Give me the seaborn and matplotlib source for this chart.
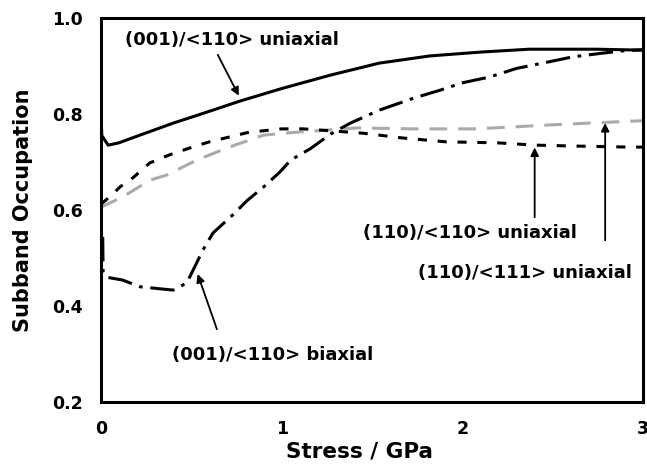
import matplotlib
matplotlib.use("Agg")
import matplotlib.pyplot as plt
import seaborn as sns
import pandas as pd

# Stress (GPa) vs. subband occupation for four strain configurations
x_001_uni = [0.0, 0.005, 0.04, 0.1, 0.216, 0.4, 0.587, 0.77, 1.0, 1.27, 1.54, 1.82, 2.1, 2.37, 2.74, 3.0]
y_001_uni = [0.794, 0.755, 0.735, 0.740, 0.756, 0.781, 0.804, 0.827, 0.853, 0.881, 0.906, 0.921, 0.929, 0.935, 0.935, 0.933]

x_001_bi = [0.01, 0.012, 0.03, 0.12, 0.216, 0.4, 0.475, 0.53, 0.565, 0.62, 0.73, 0.81, 0.9, 0.99,
            1.05, 1.16, 1.27, 1.38, 1.54, 1.73, 1.88, 2.0, 2.15, 2.3, 2.47, 2.61, 2.78, 2.9, 3.0]
y_001_bi = [0.544, 0.47, 0.46, 0.454, 0.44, 0.433, 0.448, 0.49, 0.517, 0.552, 0.59, 0.62, 0.648, 0.679,
            0.704, 0.728, 0.758, 0.781, 0.808, 0.833, 0.85, 0.865, 0.877, 0.895, 0.908, 0.919, 0.927, 0.932, 0.934]

x_110_110 = [0.0, 0.06, 0.105, 0.177, 0.27, 0.38, 0.49, 0.6, 0.71, 0.82, 1.0, 1.12, 1.27, 1.45,
             1.67, 1.91, 2.19, 2.41, 2.65, 2.93, 3.0]
y_110_110 = [0.612, 0.631, 0.648, 0.667, 0.698, 0.715, 0.729, 0.742, 0.752, 0.762, 0.769, 0.769, 0.765, 0.76,
             0.75, 0.742, 0.74, 0.735, 0.733, 0.731, 0.731]

x_110_111 = [0.0, 0.12, 0.27, 0.365, 0.53, 0.71, 0.9, 1.08, 1.27, 1.42, 1.73, 2.06, 2.28, 2.47, 2.7, 2.93, 3.0]
y_110_111 = [0.606, 0.627, 0.662, 0.673, 0.704, 0.731, 0.756, 0.762, 0.767, 0.771, 0.769, 0.769, 0.773, 0.777, 0.781, 0.785, 0.786]

x_ticks = [0, 1, 2, 3]
y_ticks = [0.2, 0.4, 0.6, 0.8, 1.0]
x_tick_labels = ["0", "1", "2", "3"]
y_tick_labels = ["0.2", "0.4", "0.6", "0.8", "1.0"]

sns.set_style("white")
plt.rcParams["font.family"] = ["DejaVu Sans"]
plt.rcParams.update({"text.color": "black", "axes.labelcolor": "black",
                     "xtick.color": "black", "ytick.color": "black"})

fig = plt.figure(figsize=(6.47, 4.74), dpi=100)
ax = fig.add_axes([0.156, 0.152, 0.838, 0.810])

series = [
    (x_110_111, y_110_111, "#aaaaaa", (5.8, 3.6)),
    (x_110_110, y_110_110, "black", (3.0, 3.5)),
    (x_001_bi, y_001_bi, "black", (8.0, 2.5, 1.2, 2.5)),
    (x_001_uni, y_001_uni, "black", None),
]
for xs, ys, color, dashes in series:
    df = pd.DataFrame({"stress": xs, "occ": ys})
    sns.lineplot(data=df, x="stress", y="occ", ax=ax, sort=False,
                 estimator=None, color=color, lw=2.2)
    if dashes is not None:
        ax.lines[-1].set_dashes(dashes)

ax.set_xlim(0, 3)
ax.set_ylim(0.2, 1.0)
ax.set_xticks(x_ticks)
ax.set_xticklabels(x_tick_labels)
ax.set_yticks(y_ticks)
ax.set_yticklabels(y_tick_labels)
ax.tick_params(direction="in", length=5, width=1.2, labelsize=12.5, pad=13,
               colors="black")
for lab in ax.get_xticklabels() + ax.get_yticklabels():
    lab.set_fontweight("bold")
for sp in ax.spines.values():
    sp.set_linewidth(2.2)
    sp.set_color("black")

ax.set_xlabel("Stress / GPa", fontsize=15.5, fontweight="bold", color="black")
ax.xaxis.set_label_coords(0.476, -0.102)
ax.set_ylabel("Subband Occupation", fontsize=15, fontweight="bold", color="black")
ax.yaxis.set_label_coords(-0.125, 0.5)

arrow = dict(arrowstyle="-|>", color="black", lw=1.3, mutation_scale=12)
tfont = dict(fontsize=13, fontweight="bold", color="black")
ax.annotate("(001)/<110> uniaxial", xy=(0.77, 0.833), xytext=(0.133, 0.954),
            arrowprops=dict(arrow, relpos=(0.42, 0.0)), ha="left", va="center", **tfont)
ax.annotate("", xy=(0.53, 0.472), xytext=(0.647, 0.346), arrowprops=arrow)
ax.text(0.393, 0.298, "(001)/<110> biaxial", ha="left", va="center", **tfont)
ax.annotate("", xy=(2.40, 0.736), xytext=(2.40, 0.579), arrowprops=arrow)
ax.text(1.45, 0.552, "(110)/<110> uniaxial", ha="left", va="center", **tfont)
ax.annotate("", xy=(2.79, 0.787), xytext=(2.79, 0.531), arrowprops=arrow)
ax.text(1.754, 0.469, "(110)/<111> uniaxial", ha="left", va="center", **tfont)

fig.savefig("out.png", dpi=100)
